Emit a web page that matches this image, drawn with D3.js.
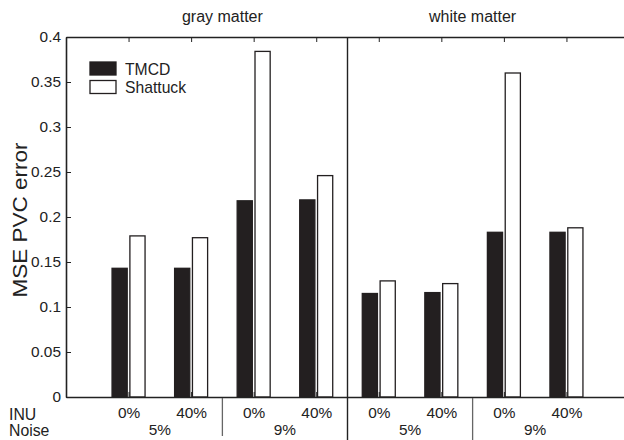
<!DOCTYPE html>
<html>
<head>
<meta charset="utf-8">
<script src="https://cdn.jsdelivr.net/npm/d3@7"></script>
<style>
  body { margin: 0; background: #fff; }
  svg { display: block; font-family: "Liberation Sans", Arial, sans-serif; }
  .axis path, .axis line { stroke: #222; }
  .axis text { fill: #222; font-size: 15.4px; }
</style>
</head>
<body>
<script>
// panel / grouping labels
const tissues = ['gray matter', 'white matter'];
const noiseLevels = ['5%', '9%'];
const inuLevels = ['0%', '40%'];
const series = ['TMCD', 'Shattuck'];

// values per bar position, left to right (gray 5% 0%, gray 5% 40%, gray 9% 0%, ...)
const tmcdValues = [0.143, 0.143, 0.218, 0.219, 0.115, 0.116, 0.183, 0.183];
const shattuckValues = [0.179, 0.177, 0.384, 0.246, 0.129, 0.126, 0.360, 0.188];
const yTicks = [0, 0.05, 0.1, 0.15, 0.2, 0.25, 0.3, 0.35, 0.4];

const width = 624, height = 440;
const margin = {top: 37, left: 66, bottom: 43};

// one slot per bar pair
const slots = tissues.flatMap(t => noiseLevels.flatMap(n => inuLevels.map(i => ({tissue: t, noise: n, inu: i}))));
slots.forEach((s, k) => { s.pos = k + 1; s.tmcd = tmcdValues[k]; s.shattuck = shattuckValues[k]; });

const svg = d3.select('body').append('svg')
    .attr('width', width)
    .attr('height', height);

const x = d3.scaleLinear()
    .domain([0, slots.length + 1])
    .range([margin.left, 629]);

const y = d3.scaleLinear()
    .domain([0, 0.4])
    .range([height - margin.bottom, margin.top]);

const sub = d3.scaleBand()
    .domain(series)
    .range([-16.5, 16.5])
    .paddingInner(0.15);

// bars
const groups = svg.append('g')
    .selectAll('g')
    .data(slots)
    .enter().append('g')
    .attr('transform', d => `translate(${x(d.pos)},0)`);

groups.selectAll('rect')
    .data(d => series.map(s => ({series: s, value: s === 'TMCD' ? d.tmcd : d.shattuck})))
    .enter().append('rect')
    .attr('x', d => sub(d.series))
    .attr('width', sub.bandwidth())
    .attr('y', d => y(d.value))
    .attr('height', d => y(0) - y(d.value))
    .attr('fill', d => d.series === 'TMCD' ? '#231f20' : '#fff')
    .attr('stroke', '#231f20')
    .attr('stroke-width', 1.3);

// axes (ticks pointing inward on all sides)
const fmt = v => String(+v.toFixed(2));

svg.append('g')
    .attr('class', 'axis')
    .attr('transform', `translate(${margin.left},0)`)
    .call(d3.axisLeft(y).tickValues(yTicks).tickFormat(fmt).tickSizeInner(-5).tickSizeOuter(0).tickPadding(5))
    .call(g => g.select('.domain').attr('stroke-width', 1.6));

svg.append('g')
    .attr('class', 'axis')
    .attr('transform', `translate(${x.range()[1]},0)`)
    .call(d3.axisRight(y).tickValues(yTicks).tickFormat('').tickSizeInner(-5).tickSizeOuter(0));

svg.append('g')
    .attr('class', 'axis')
    .attr('transform', `translate(0,${margin.top})`)
    .call(d3.axisTop(x).tickValues(slots.map(d => d.pos)).tickFormat('').tickSizeInner(-5).tickSizeOuter(0))
    .call(g => g.select('.domain').attr('stroke-width', 1.6));

svg.append('g')
    .attr('class', 'axis')
    .attr('transform', `translate(0,${y(0)})`)
    .call(d3.axisBottom(x).tickValues(slots.map(d => d.pos))
        .tickFormat((d, k) => slots[k].inu).tickSizeInner(-5).tickSizeOuter(0).tickPadding(10))
    .call(g => g.select('.domain').attr('stroke-width', 1.6))
    .call(g => g.selectAll('.tick line').attr('stroke', '#777'));

// divider between gray and white matter
const mid = x((slots.length + 1) / 2);
svg.append('line')
    .attr('x1', mid).attr('x2', mid)
    .attr('y1', margin.top).attr('y2', height)
    .attr('stroke', '#222').attr('stroke-width', 1.4);

// dividers between noise groups under the axis
[2.5, 6.5].forEach(p => {
    svg.append('line')
        .attr('x1', x(p)).attr('x2', x(p))
        .attr('y1', y(0) + 1).attr('y2', p === 2.5 ? 436 : height)
        .attr('stroke', '#666').attr('stroke-width', 1.3);
});

// noise labels
const noiseGroups = tissues.flatMap((t, ti) => noiseLevels.map((n, ni) => ({label: n, pos: ti * 4 + ni * 2 + 1.5})));
svg.append('g')
    .selectAll('text')
    .data(noiseGroups)
    .enter().append('text')
    .attr('x', d => x(d.pos))
    .attr('y', 435)
    .attr('text-anchor', 'middle')
    .attr('font-size', 15.4)
    .attr('fill', '#222')
    .text(d => d.label);

// row labels
svg.append('text').attr('x', 9).attr('y', 420).attr('font-size', 15.8).attr('fill', '#222').text('INU');
svg.append('text').attr('x', 9).attr('y', 436).attr('font-size', 15.8).attr('fill', '#222').text('Noise');

// panel titles
svg.append('g')
    .selectAll('text')
    .data(tissues)
    .enter().append('text')
    .attr('x', (d, i) => x(i * 4 + 2.5))
    .attr('y', 22)
    .attr('text-anchor', 'middle')
    .attr('font-size', 16)
    .attr('fill', '#222')
    .text(d => d);

// y label
svg.append('text')
    .attr('transform', 'translate(27,220) rotate(-90)')
    .attr('text-anchor', 'middle')
    .attr('font-size', 20)
    .attr('textLength', 155)
    .attr('lengthAdjust', 'spacingAndGlyphs')
    .attr('fill', '#222')
    .text('MSE PVC error');

// legend
const legend = svg.append('g')
    .selectAll('g')
    .data(series)
    .enter().append('g')
    .attr('transform', (d, i) => `translate(90,${62 + i * 18.5})`);

legend.append('rect')
    .attr('width', 26)
    .attr('height', 13)
    .attr('fill', d => d === 'TMCD' ? '#231f20' : '#fff')
    .attr('stroke', '#231f20')
    .attr('stroke-width', 1.3);

legend.append('text')
    .attr('x', 35)
    .attr('y', 12.5)
    .attr('font-size', 15.7)
    .attr('fill', '#222')
    .text(d => d);
</script>
</body>
</html>
